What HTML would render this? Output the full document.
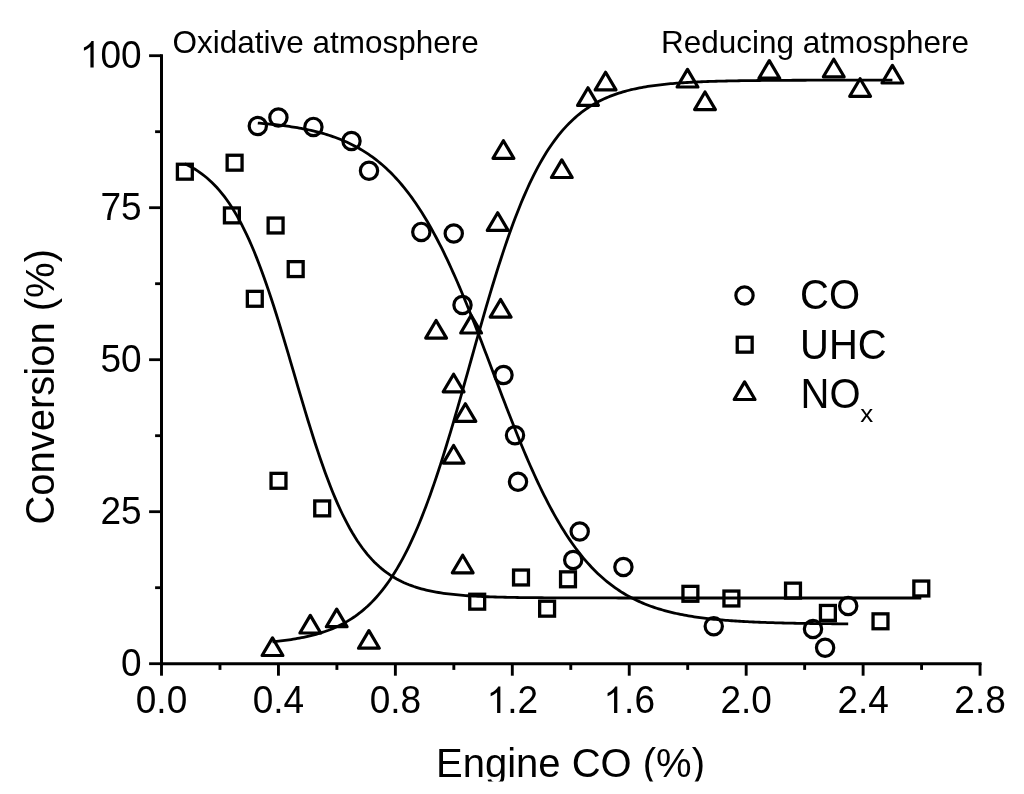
<!DOCTYPE html>
<html><head><meta charset="utf-8"><style>
html,body{margin:0;padding:0;background:#fff;}
body{width:1024px;height:794px;overflow:hidden;}
svg{display:block;will-change:transform;}
text{font-family:"Liberation Sans",sans-serif;fill:#000;}
.tl{font-size:37px;}
.lg{font-size:40px;}
.sub{font-size:24px;}
.an{font-size:31.5px;}
.ti{font-size:40px;}
</style></head><body>
<svg width="1024" height="794" viewBox="0 0 1024 794">
<rect width="1024" height="794" fill="#fff"/>
<path d="M161.5,54.2 V665.2" stroke="#000" stroke-width="3" fill="none"/>
<path d="M160.0,663.7 H981.55" stroke="#000" stroke-width="3" fill="none"/>
<path d="M149.1,663.70 H161.5" stroke="#000" stroke-width="2.8"/>
<path d="M155.1,587.70 H161.5" stroke="#000" stroke-width="2.8"/>
<path d="M149.1,511.70 H161.5" stroke="#000" stroke-width="2.8"/>
<path d="M155.1,435.70 H161.5" stroke="#000" stroke-width="2.8"/>
<path d="M149.1,359.70 H161.5" stroke="#000" stroke-width="2.8"/>
<path d="M155.1,283.70 H161.5" stroke="#000" stroke-width="2.8"/>
<path d="M149.1,207.70 H161.5" stroke="#000" stroke-width="2.8"/>
<path d="M155.1,131.70 H161.5" stroke="#000" stroke-width="2.8"/>
<path d="M149.1,55.70 H161.5" stroke="#000" stroke-width="2.8"/>
<path d="M161.50,663.7 V675.7" stroke="#000" stroke-width="2.9"/>
<path d="M219.97,663.7 V669.9000000000001" stroke="#000" stroke-width="2.9"/>
<path d="M278.44,663.7 V675.7" stroke="#000" stroke-width="2.9"/>
<path d="M336.90,663.7 V669.9000000000001" stroke="#000" stroke-width="2.9"/>
<path d="M395.37,663.7 V675.7" stroke="#000" stroke-width="2.9"/>
<path d="M453.84,663.7 V669.9000000000001" stroke="#000" stroke-width="2.9"/>
<path d="M512.31,663.7 V675.7" stroke="#000" stroke-width="2.9"/>
<path d="M570.78,663.7 V669.9000000000001" stroke="#000" stroke-width="2.9"/>
<path d="M629.24,663.7 V675.7" stroke="#000" stroke-width="2.9"/>
<path d="M687.71,663.7 V669.9000000000001" stroke="#000" stroke-width="2.9"/>
<path d="M746.18,663.7 V675.7" stroke="#000" stroke-width="2.9"/>
<path d="M804.65,663.7 V669.9000000000001" stroke="#000" stroke-width="2.9"/>
<path d="M863.11,663.7 V675.7" stroke="#000" stroke-width="2.9"/>
<path d="M921.58,663.7 V669.9000000000001" stroke="#000" stroke-width="2.9"/>
<path d="M980.05,663.7 V675.7" stroke="#000" stroke-width="2.9"/>
<g transform="translate(121.02,675.50) scale(1,1.05)"><text x="0" y="0" class="tl">0</text></g>
<g transform="translate(100.44,523.50) scale(1,1.05)"><text x="0" y="0" class="tl">25</text></g>
<g transform="translate(100.44,371.50) scale(1,1.05)"><text x="0" y="0" class="tl">50</text></g>
<g transform="translate(100.44,219.50) scale(1,1.05)"><text x="0" y="0" class="tl">75</text></g>
<g transform="translate(79.87,67.50) scale(1,1.05)"><text x="0" y="0" class="tl"><tspan fill="transparent">1</tspan>00</text><path d="M763 0H583V1147C540 1106 483 1065 413 1024C343 983 280 952 224 931V1105C325 1152 413 1210 488 1277C563 1344 616 1409 647 1472H763Z" transform="translate(0.000,0) scale(0.018066,-0.017206)"/></g>
<g transform="translate(135.78,713.00) scale(1,1.05)"><text x="0" y="0" class="tl">0.0</text></g>
<g transform="translate(252.72,713.00) scale(1,1.05)"><text x="0" y="0" class="tl">0.4</text></g>
<g transform="translate(369.65,713.00) scale(1,1.05)"><text x="0" y="0" class="tl">0.8</text></g>
<g transform="translate(486.59,713.00) scale(1,1.05)"><text x="0" y="0" class="tl"><tspan fill="transparent">1</tspan>.2</text><path d="M763 0H583V1147C540 1106 483 1065 413 1024C343 983 280 952 224 931V1105C325 1152 413 1210 488 1277C563 1344 616 1409 647 1472H763Z" transform="translate(0.000,0) scale(0.018066,-0.017206)"/></g>
<g transform="translate(603.53,713.00) scale(1,1.05)"><text x="0" y="0" class="tl"><tspan fill="transparent">1</tspan>.6</text><path d="M763 0H583V1147C540 1106 483 1065 413 1024C343 983 280 952 224 931V1105C325 1152 413 1210 488 1277C563 1344 616 1409 647 1472H763Z" transform="translate(0.000,0) scale(0.018066,-0.017206)"/></g>
<g transform="translate(720.46,713.00) scale(1,1.05)"><text x="0" y="0" class="tl">2.0</text></g>
<g transform="translate(837.40,713.00) scale(1,1.05)"><text x="0" y="0" class="tl">2.4</text></g>
<g transform="translate(954.33,713.00) scale(1,1.05)"><text x="0" y="0" class="tl">2.8</text></g>
<path d="M184.85,163.81 L187.31,164.99 L189.78,166.26 L192.24,167.62 L194.70,169.07 L197.17,170.63 L199.63,172.30 L202.09,174.08 L204.55,175.98 L207.02,178.01 L209.48,180.17 L211.94,182.48 L214.41,184.94 L216.87,187.56 L219.33,190.35 L221.80,193.31 L224.26,196.45 L226.72,199.78 L229.18,203.31 L231.65,207.05 L234.11,210.99 L236.57,215.15 L239.04,219.54 L241.50,224.16 L243.96,229.01 L246.43,234.10 L248.89,239.43 L251.35,245.00 L253.82,250.81 L256.28,256.87 L258.74,263.16 L261.20,269.69 L263.67,276.44 L266.13,283.41 L268.59,290.60 L271.06,297.98 L273.52,305.55 L275.98,313.29 L278.45,321.19 L280.91,329.22 L283.37,337.37 L285.83,345.62 L288.30,353.94 L290.76,362.32 L293.22,370.73 L295.69,379.14 L298.15,387.53 L300.61,395.89 L303.08,404.18 L305.54,412.39 L308.00,420.49 L310.47,428.46 L312.93,436.28 L315.39,443.95 L317.85,451.43 L320.32,458.73 L322.78,465.81 L325.24,472.69 L327.71,479.33 L330.17,485.75 L332.63,491.93 L335.10,497.88 L337.56,503.58 L340.02,509.04 L342.48,514.25 L344.95,519.23 L347.41,523.97 L349.87,528.48 L352.34,532.77 L354.80,536.83 L357.26,540.68 L359.73,544.31 L362.19,547.75 L364.65,550.99 L367.12,554.05 L369.58,556.93 L372.04,559.63 L374.50,562.18 L376.97,564.57 L379.43,566.81 L381.89,568.91 L384.36,570.88 L386.82,572.73 L389.28,574.45 L391.75,576.07 L394.21,577.57 L396.67,578.98 L399.13,580.30 L401.60,581.53 L404.06,582.68 L406.52,583.74 L408.99,584.74 L411.45,585.67 L413.91,586.54 L416.38,587.34 L418.84,588.09 L421.30,588.79 L423.77,589.44 L426.23,590.05 L428.69,590.61 L431.15,591.14 L433.62,591.62 L436.08,592.08 L438.54,592.50 L441.01,592.89 L443.47,593.26 L445.93,593.59 L448.40,593.91 L450.86,594.20 L453.32,594.47 L455.78,594.72 L458.25,594.96 L460.71,595.18 L463.17,595.38 L465.64,595.57 L468.10,595.74 L470.56,595.90 L473.03,596.05 L475.49,596.19 L477.95,596.32 L480.42,596.44 L482.88,596.56 L485.34,596.66 L487.80,596.76 L490.27,596.85 L492.73,596.93 L495.19,597.01 L497.66,597.08 L500.12,597.14 L502.58,597.20 L505.05,597.26 L507.51,597.32 L509.97,597.36 L512.43,597.41 L514.90,597.45 L517.36,597.49 L519.82,597.53 L522.29,597.56 L524.75,597.59 L527.21,597.62 L529.68,597.65 L532.14,597.68 L534.60,597.70 L537.07,597.72 L539.53,597.74 L541.99,597.76 L544.45,597.78 L546.92,597.79 L549.38,597.81 L551.84,597.82 L554.31,597.83 L556.77,597.85 L559.23,597.86 L561.70,597.87 L564.16,597.88 L566.62,597.89 L569.08,597.89 L571.55,597.90 L574.01,597.91 L576.47,597.92 L578.94,597.92 L581.40,597.93 L583.86,597.93 L586.33,597.94 L588.79,597.94 L591.25,597.95 L593.72,597.95 L596.18,597.95 L598.64,597.96 L601.10,597.96 L603.57,597.96 L606.03,597.97 L608.49,597.97 L610.96,597.97 L613.42,597.97 L615.88,597.97 L618.35,597.98 L620.81,597.98 L623.27,597.98 L625.73,597.98 L628.20,597.98 L630.66,597.98 L633.12,597.98 L635.59,597.99 L638.05,597.99 L640.51,597.99 L642.98,597.99 L645.44,597.99 L647.90,597.99 L650.37,597.99 L652.83,597.99 L655.29,597.99 L657.75,597.99 L660.22,597.99 L662.68,597.99 L665.14,597.99 L667.61,597.99 L670.07,598.00 L672.53,598.00 L675.00,598.00 L677.46,598.00 L679.92,598.00 L682.38,598.00 L684.85,598.00 L687.31,598.00 L689.77,598.00 L692.24,598.00 L694.70,598.00 L697.16,598.00 L699.63,598.00 L702.09,598.00 L704.55,598.00 L707.02,598.00 L709.48,598.00 L711.94,598.00 L714.40,598.00 L716.87,598.00 L719.33,598.00 L721.79,598.00 L724.26,598.00 L726.72,598.00 L729.18,598.00 L731.65,598.00 L734.11,598.00 L736.57,598.00 L739.03,598.00 L741.50,598.00 L743.96,598.00 L746.42,598.00 L748.89,598.00 L751.35,598.00 L753.81,598.00 L756.28,598.00 L758.74,598.00 L761.20,598.00 L763.67,598.00 L766.13,598.00 L768.59,598.00 L771.05,598.00 L773.52,598.00 L775.98,598.00 L778.44,598.00 L780.91,598.00 L783.37,598.00 L785.83,598.00 L788.30,598.00 L790.76,598.00 L793.22,598.00 L795.68,598.00 L798.15,598.00 L800.61,598.00 L803.07,598.00 L805.54,598.00 L808.00,598.00 L810.46,598.00 L812.93,598.00 L815.39,598.00 L817.85,598.00 L820.32,598.00 L822.78,598.00 L825.24,598.00 L827.70,598.00 L830.17,598.00 L832.63,598.00 L835.09,598.00 L837.56,598.00 L840.02,598.00 L842.48,598.00 L844.95,598.00 L847.41,598.00 L849.87,598.00 L852.33,598.00 L854.80,598.00 L857.26,598.00 L859.72,598.00 L862.19,598.00 L864.65,598.00 L867.11,598.00 L869.58,598.00 L872.04,598.00 L874.50,598.00 L876.97,598.00 L879.43,598.00 L881.89,598.00 L884.35,598.00 L886.82,598.00 L889.28,598.00 L891.74,598.00 L894.21,598.00 L896.67,598.00 L899.13,598.00 L901.60,598.00 L904.06,598.00 L906.52,598.00 L908.98,598.00 L911.45,598.00 L913.91,598.00 L916.37,598.00 L918.84,598.00 L921.30,598.00" stroke="#000" stroke-width="2.8" fill="none"/>
<path d="M257.80,123.07 L259.77,123.22 L261.75,123.39 L263.72,123.55 L265.70,123.73 L267.67,123.91 L269.65,124.09 L271.62,124.29 L273.60,124.49 L275.57,124.71 L277.55,124.93 L279.52,125.16 L281.49,125.40 L283.47,125.65 L285.44,125.91 L287.42,126.18 L289.39,126.46 L291.37,126.76 L293.34,127.06 L295.32,127.38 L297.29,127.71 L299.27,128.05 L301.24,128.41 L303.22,128.78 L305.19,129.17 L307.16,129.58 L309.14,130.00 L311.11,130.43 L313.09,130.89 L315.06,131.36 L317.04,131.85 L319.01,132.36 L320.99,132.90 L322.96,133.45 L324.94,134.02 L326.91,134.62 L328.88,135.24 L330.86,135.89 L332.83,136.56 L334.81,137.26 L336.78,137.98 L338.76,138.74 L340.73,139.52 L342.71,140.33 L344.68,141.18 L346.66,142.06 L348.63,142.97 L350.61,143.91 L352.58,144.89 L354.55,145.91 L356.53,146.97 L358.50,148.06 L360.48,149.20 L362.45,150.38 L364.43,151.60 L366.40,152.87 L368.38,154.18 L370.35,155.54 L372.33,156.95 L374.30,158.41 L376.27,159.93 L378.25,161.49 L380.22,163.11 L382.20,164.79 L384.17,166.52 L386.15,168.32 L388.12,170.17 L390.10,172.09 L392.07,174.07 L394.05,176.11 L396.02,178.23 L398.00,180.41 L399.97,182.66 L401.94,184.98 L403.92,187.37 L405.89,189.83 L407.87,192.37 L409.84,194.99 L411.82,197.68 L413.79,200.45 L415.77,203.30 L417.74,206.23 L419.72,209.23 L421.69,212.32 L423.66,215.49 L425.64,218.75 L427.61,222.08 L429.59,225.50 L431.56,229.00 L433.54,232.59 L435.51,236.25 L437.49,240.00 L439.46,243.83 L441.44,247.74 L443.41,251.73 L445.39,255.81 L447.36,259.95 L449.33,264.18 L451.31,268.48 L453.28,272.85 L455.26,277.30 L457.23,281.81 L459.21,286.39 L461.18,291.04 L463.16,295.74 L465.13,300.51 L467.11,305.33 L469.08,310.21 L471.05,315.13 L473.03,320.10 L475.00,325.11 L476.98,330.16 L478.95,335.25 L480.93,340.36 L482.90,345.50 L484.88,350.67 L486.85,355.85 L488.83,361.04 L490.80,366.25 L492.78,371.46 L494.75,376.67 L496.72,381.87 L498.70,387.07 L500.67,392.25 L502.65,397.42 L504.62,402.56 L506.60,407.68 L508.57,412.77 L510.55,417.82 L512.52,422.84 L514.50,427.81 L516.47,432.74 L518.44,437.62 L520.42,442.45 L522.39,447.23 L524.37,451.94 L526.34,456.59 L528.32,461.18 L530.29,465.70 L532.27,470.16 L534.24,474.54 L536.22,478.85 L538.19,483.08 L540.17,487.24 L542.14,491.32 L544.11,495.32 L546.09,499.24 L548.06,503.08 L550.04,506.84 L552.01,510.52 L553.99,514.11 L555.96,517.62 L557.94,521.05 L559.91,524.40 L561.89,527.66 L563.86,530.84 L565.83,533.94 L567.81,536.96 L569.78,539.90 L571.76,542.76 L573.73,545.54 L575.71,548.24 L577.68,550.86 L579.66,553.41 L581.63,555.89 L583.61,558.29 L585.58,560.61 L587.56,562.87 L589.53,565.06 L591.50,567.18 L593.48,569.23 L595.45,571.22 L597.43,573.15 L599.40,575.01 L601.38,576.81 L603.35,578.55 L605.33,580.24 L607.30,581.86 L609.28,583.44 L611.25,584.96 L613.22,586.42 L615.20,587.84 L617.17,589.21 L619.15,590.52 L621.12,591.80 L623.10,593.03 L625.07,594.21 L627.05,595.35 L629.02,596.45 L631.00,597.51 L632.97,598.54 L634.95,599.52 L636.92,600.47 L638.89,601.39 L640.87,602.27 L642.84,603.12 L644.82,603.93 L646.79,604.72 L648.77,605.48 L650.74,606.20 L652.72,606.91 L654.69,607.58 L656.67,608.23 L658.64,608.85 L660.61,609.45 L662.59,610.03 L664.56,610.59 L666.54,611.12 L668.51,611.64 L670.49,612.13 L672.46,612.61 L674.44,613.06 L676.41,613.50 L678.39,613.92 L680.36,614.33 L682.34,614.72 L684.31,615.09 L686.28,615.45 L688.26,615.80 L690.23,616.13 L692.21,616.45 L694.18,616.76 L696.16,617.05 L698.13,617.34 L700.11,617.61 L702.08,617.87 L704.06,618.12 L706.03,618.36 L708.00,618.59 L709.98,618.82 L711.95,619.03 L713.93,619.24 L715.90,619.43 L717.88,619.62 L719.85,619.80 L721.83,619.98 L723.80,620.15 L725.78,620.31 L727.75,620.46 L729.73,620.61 L731.70,620.75 L733.67,620.89 L735.65,621.02 L737.62,621.15 L739.60,621.27 L741.57,621.38 L743.55,621.49 L745.52,621.60 L747.50,621.70 L749.47,621.80 L751.45,621.90 L753.42,621.99 L755.39,622.08 L757.37,622.16 L759.34,622.24 L761.32,622.32 L763.29,622.39 L765.27,622.46 L767.24,622.53 L769.22,622.60 L771.19,622.66 L773.17,622.72 L775.14,622.78 L777.12,622.83 L779.09,622.89 L781.06,622.94 L783.04,622.99 L785.01,623.03 L786.99,623.08 L788.96,623.12 L790.94,623.16 L792.91,623.20 L794.89,623.24 L796.86,623.28 L798.84,623.31 L800.81,623.35 L802.78,623.38 L804.76,623.41 L806.73,623.44 L808.71,623.47 L810.68,623.50 L812.66,623.52 L814.63,623.55 L816.61,623.57 L818.58,623.60 L820.56,623.62 L822.53,623.64 L824.51,623.66 L826.48,623.68 L828.45,623.70 L830.43,623.72 L832.40,623.74 L834.38,623.75 L836.35,623.77 L838.33,623.79 L840.30,623.80 L842.28,623.81 L844.25,623.83 L846.23,623.84 L848.20,623.85" stroke="#000" stroke-width="2.8" fill="none"/>
<path d="M272.50,641.79 L274.57,641.59 L276.65,641.37 L278.72,641.15 L280.79,640.91 L282.87,640.66 L284.94,640.40 L287.01,640.12 L289.09,639.82 L291.16,639.52 L293.23,639.19 L295.31,638.85 L297.38,638.49 L299.45,638.12 L301.53,637.72 L303.60,637.30 L305.67,636.86 L307.75,636.40 L309.82,635.91 L311.89,635.40 L313.96,634.86 L316.04,634.30 L318.11,633.70 L320.18,633.07 L322.26,632.42 L324.33,631.73 L326.40,631.00 L328.48,630.24 L330.55,629.43 L332.62,628.59 L334.70,627.70 L336.77,626.78 L338.84,625.80 L340.92,624.77 L342.99,623.70 L345.06,622.57 L347.14,621.39 L349.21,620.14 L351.28,618.84 L353.36,617.47 L355.43,616.04 L357.50,614.54 L359.58,612.97 L361.65,611.32 L363.72,609.60 L365.80,607.80 L367.87,605.91 L369.94,603.93 L372.02,601.87 L374.09,599.71 L376.16,597.46 L378.24,595.10 L380.31,592.65 L382.38,590.08 L384.46,587.41 L386.53,584.62 L388.60,581.72 L390.67,578.69 L392.75,575.54 L394.82,572.27 L396.89,568.87 L398.97,565.33 L401.04,561.66 L403.11,557.86 L405.19,553.91 L407.26,549.82 L409.33,545.59 L411.41,541.21 L413.48,536.69 L415.55,532.01 L417.63,527.19 L419.70,522.22 L421.77,517.11 L423.85,511.84 L425.92,506.43 L427.99,500.87 L430.07,495.17 L432.14,489.32 L434.21,483.34 L436.29,477.22 L438.36,470.98 L440.43,464.60 L442.51,458.11 L444.58,451.50 L446.65,444.78 L448.73,437.96 L450.80,431.04 L452.87,424.04 L454.95,416.95 L457.02,409.80 L459.09,402.58 L461.17,395.31 L463.24,388.00 L465.31,380.65 L467.38,373.27 L469.46,365.89 L471.53,358.50 L473.60,351.11 L475.68,343.74 L477.75,336.40 L479.82,329.09 L481.90,321.83 L483.97,314.62 L486.04,307.48 L488.12,300.41 L490.19,293.42 L492.26,286.52 L494.34,279.72 L496.41,273.02 L498.48,266.43 L500.56,259.96 L502.63,253.60 L504.70,247.38 L506.78,241.29 L508.85,235.33 L510.92,229.51 L513.00,223.84 L515.07,218.31 L517.14,212.92 L519.22,207.68 L521.29,202.59 L523.36,197.65 L525.44,192.85 L527.51,188.21 L529.58,183.71 L531.66,179.36 L533.73,175.15 L535.80,171.09 L537.88,167.17 L539.95,163.39 L542.02,159.74 L544.09,156.23 L546.17,152.85 L548.24,149.60 L550.31,146.48 L552.39,143.48 L554.46,140.59 L556.53,137.83 L558.61,135.17 L560.68,132.63 L562.75,130.19 L564.83,127.85 L566.90,125.62 L568.97,123.48 L571.05,121.43 L573.12,119.47 L575.19,117.60 L577.27,115.81 L579.34,114.10 L581.41,112.47 L583.49,110.91 L585.56,109.42 L587.63,108.00 L589.71,106.65 L591.78,105.36 L593.85,104.12 L595.93,102.95 L598.00,101.83 L600.07,100.77 L602.15,99.75 L604.22,98.78 L606.29,97.86 L608.37,96.98 L610.44,96.15 L612.51,95.35 L614.59,94.60 L616.66,93.88 L618.73,93.19 L620.81,92.54 L622.88,91.92 L624.95,91.33 L627.02,90.77 L629.10,90.24 L631.17,89.73 L633.24,89.25 L635.32,88.79 L637.39,88.35 L639.46,87.94 L641.54,87.54 L643.61,87.17 L645.68,86.81 L647.76,86.48 L649.83,86.16 L651.90,85.85 L653.98,85.56 L656.05,85.29 L658.12,85.02 L660.20,84.78 L662.27,84.54 L664.34,84.32 L666.42,84.10 L668.49,83.90 L670.56,83.71 L672.64,83.53 L674.71,83.35 L676.78,83.19 L678.86,83.03 L680.93,82.88 L683.00,82.74 L685.08,82.61 L687.15,82.48 L689.22,82.36 L691.30,82.25 L693.37,82.14 L695.44,82.04 L697.52,81.94 L699.59,81.85 L701.66,81.76 L703.73,81.67 L705.81,81.59 L707.88,81.52 L709.95,81.45 L712.03,81.38 L714.10,81.31 L716.17,81.25 L718.25,81.19 L720.32,81.14 L722.39,81.09 L724.47,81.04 L726.54,80.99 L728.61,80.94 L730.69,80.90 L732.76,80.86 L734.83,80.82 L736.91,80.79 L738.98,80.75 L741.05,80.72 L743.13,80.69 L745.20,80.66 L747.27,80.63 L749.35,80.60 L751.42,80.58 L753.49,80.55 L755.57,80.53 L757.64,80.51 L759.71,80.49 L761.79,80.47 L763.86,80.45 L765.93,80.43 L768.01,80.42 L770.08,80.40 L772.15,80.39 L774.23,80.37 L776.30,80.36 L778.37,80.35 L780.44,80.33 L782.52,80.32 L784.59,80.31 L786.66,80.30 L788.74,80.29 L790.81,80.28 L792.88,80.27 L794.96,80.26 L797.03,80.26 L799.10,80.25 L801.18,80.24 L803.25,80.23 L805.32,80.23 L807.40,80.22 L809.47,80.22 L811.54,80.21 L813.62,80.21 L815.69,80.20 L817.76,80.20 L819.84,80.19 L821.91,80.19 L823.98,80.18 L826.06,80.18 L828.13,80.18 L830.20,80.17 L832.28,80.17 L834.35,80.17 L836.42,80.16 L838.50,80.16 L840.57,80.16 L842.64,80.15 L844.72,80.15 L846.79,80.15 L848.86,80.15 L850.94,80.15 L853.01,80.14 L855.08,80.14 L857.15,80.14 L859.23,80.14 L861.30,80.14 L863.37,80.14 L865.45,80.13 L867.52,80.13 L869.59,80.13 L871.67,80.13 L873.74,80.13 L875.81,80.13 L877.89,80.13 L879.96,80.13 L882.03,80.12 L884.11,80.12 L886.18,80.12 L888.25,80.12 L890.33,80.12 L892.40,80.12" stroke="#000" stroke-width="2.8" fill="none"/>
<circle cx="257.80" cy="126.00" r="8.65" stroke="#000" stroke-width="3.2" fill="none"/>
<circle cx="278.40" cy="117.60" r="8.65" stroke="#000" stroke-width="3.2" fill="none"/>
<circle cx="313.40" cy="126.90" r="8.65" stroke="#000" stroke-width="3.2" fill="none"/>
<circle cx="351.50" cy="141.00" r="8.65" stroke="#000" stroke-width="3.2" fill="none"/>
<circle cx="369.00" cy="170.70" r="8.65" stroke="#000" stroke-width="3.2" fill="none"/>
<circle cx="421.30" cy="231.90" r="8.65" stroke="#000" stroke-width="3.2" fill="none"/>
<circle cx="453.75" cy="233.50" r="8.65" stroke="#000" stroke-width="3.2" fill="none"/>
<circle cx="462.50" cy="305.00" r="8.65" stroke="#000" stroke-width="3.2" fill="none"/>
<circle cx="503.50" cy="375.00" r="8.65" stroke="#000" stroke-width="3.2" fill="none"/>
<circle cx="515.00" cy="435.20" r="8.65" stroke="#000" stroke-width="3.2" fill="none"/>
<circle cx="518.00" cy="481.80" r="8.65" stroke="#000" stroke-width="3.2" fill="none"/>
<circle cx="579.70" cy="531.50" r="8.65" stroke="#000" stroke-width="3.2" fill="none"/>
<circle cx="573.20" cy="560.00" r="8.65" stroke="#000" stroke-width="3.2" fill="none"/>
<circle cx="623.40" cy="567.00" r="8.65" stroke="#000" stroke-width="3.2" fill="none"/>
<circle cx="713.75" cy="626.25" r="8.65" stroke="#000" stroke-width="3.2" fill="none"/>
<circle cx="813.00" cy="629.00" r="8.65" stroke="#000" stroke-width="3.2" fill="none"/>
<circle cx="825.10" cy="647.70" r="8.65" stroke="#000" stroke-width="3.2" fill="none"/>
<circle cx="848.20" cy="606.00" r="8.65" stroke="#000" stroke-width="3.2" fill="none"/>
<rect x="177.40" y="164.25" width="14.9" height="14.9" stroke="#000" stroke-width="3.3" fill="none"/>
<rect x="227.15" y="155.25" width="14.9" height="14.9" stroke="#000" stroke-width="3.3" fill="none"/>
<rect x="224.45" y="207.95" width="14.9" height="14.9" stroke="#000" stroke-width="3.3" fill="none"/>
<rect x="268.15" y="218.05" width="14.9" height="14.9" stroke="#000" stroke-width="3.3" fill="none"/>
<rect x="288.25" y="261.65" width="14.9" height="14.9" stroke="#000" stroke-width="3.3" fill="none"/>
<rect x="247.35" y="291.35" width="14.9" height="14.9" stroke="#000" stroke-width="3.3" fill="none"/>
<rect x="271.05" y="473.35" width="14.9" height="14.9" stroke="#000" stroke-width="3.3" fill="none"/>
<rect x="314.75" y="500.95" width="14.9" height="14.9" stroke="#000" stroke-width="3.3" fill="none"/>
<rect x="469.75" y="594.25" width="14.9" height="14.9" stroke="#000" stroke-width="3.3" fill="none"/>
<rect x="513.55" y="570.05" width="14.9" height="14.9" stroke="#000" stroke-width="3.3" fill="none"/>
<rect x="539.65" y="601.25" width="14.9" height="14.9" stroke="#000" stroke-width="3.3" fill="none"/>
<rect x="560.55" y="571.85" width="14.9" height="14.9" stroke="#000" stroke-width="3.3" fill="none"/>
<rect x="682.95" y="586.35" width="14.9" height="14.9" stroke="#000" stroke-width="3.3" fill="none"/>
<rect x="723.95" y="591.05" width="14.9" height="14.9" stroke="#000" stroke-width="3.3" fill="none"/>
<rect x="785.55" y="583.15" width="14.9" height="14.9" stroke="#000" stroke-width="3.3" fill="none"/>
<rect x="820.45" y="605.45" width="14.9" height="14.9" stroke="#000" stroke-width="3.3" fill="none"/>
<rect x="873.05" y="613.85" width="14.9" height="14.9" stroke="#000" stroke-width="3.3" fill="none"/>
<rect x="913.85" y="581.05" width="14.9" height="14.9" stroke="#000" stroke-width="3.3" fill="none"/>
<path d="M272.50,637.90 L282.90,655.50 L262.10,655.50 Z" stroke="#000" stroke-width="3.2" stroke-linejoin="round" fill="none"/>
<path d="M310.30,615.40 L320.70,633.00 L299.90,633.00 Z" stroke="#000" stroke-width="3.2" stroke-linejoin="round" fill="none"/>
<path d="M336.70,609.10 L347.10,626.70 L326.30,626.70 Z" stroke="#000" stroke-width="3.2" stroke-linejoin="round" fill="none"/>
<path d="M368.90,630.60 L379.30,648.20 L358.50,648.20 Z" stroke="#000" stroke-width="3.2" stroke-linejoin="round" fill="none"/>
<path d="M497.70,212.80 L508.10,230.40 L487.30,230.40 Z" stroke="#000" stroke-width="3.2" stroke-linejoin="round" fill="none"/>
<path d="M436.10,320.50 L446.50,338.10 L425.70,338.10 Z" stroke="#000" stroke-width="3.2" stroke-linejoin="round" fill="none"/>
<path d="M471.10,315.40 L481.50,333.00 L460.70,333.00 Z" stroke="#000" stroke-width="3.2" stroke-linejoin="round" fill="none"/>
<path d="M500.60,299.50 L511.00,317.10 L490.20,317.10 Z" stroke="#000" stroke-width="3.2" stroke-linejoin="round" fill="none"/>
<path d="M453.60,374.20 L464.00,391.80 L443.20,391.80 Z" stroke="#000" stroke-width="3.2" stroke-linejoin="round" fill="none"/>
<path d="M465.40,403.80 L475.80,421.40 L455.00,421.40 Z" stroke="#000" stroke-width="3.2" stroke-linejoin="round" fill="none"/>
<path d="M453.60,445.50 L464.00,463.10 L443.20,463.10 Z" stroke="#000" stroke-width="3.2" stroke-linejoin="round" fill="none"/>
<path d="M462.70,555.20 L473.10,572.80 L452.30,572.80 Z" stroke="#000" stroke-width="3.2" stroke-linejoin="round" fill="none"/>
<path d="M503.40,140.70 L513.80,158.30 L493.00,158.30 Z" stroke="#000" stroke-width="3.2" stroke-linejoin="round" fill="none"/>
<path d="M588.00,87.80 L598.40,105.40 L577.60,105.40 Z" stroke="#000" stroke-width="3.2" stroke-linejoin="round" fill="none"/>
<path d="M605.60,72.30 L616.00,89.90 L595.20,89.90 Z" stroke="#000" stroke-width="3.2" stroke-linejoin="round" fill="none"/>
<path d="M561.80,159.90 L572.20,177.50 L551.40,177.50 Z" stroke="#000" stroke-width="3.2" stroke-linejoin="round" fill="none"/>
<path d="M687.50,69.40 L697.90,87.00 L677.10,87.00 Z" stroke="#000" stroke-width="3.2" stroke-linejoin="round" fill="none"/>
<path d="M705.00,92.00 L715.40,109.60 L694.60,109.60 Z" stroke="#000" stroke-width="3.2" stroke-linejoin="round" fill="none"/>
<path d="M769.30,60.60 L779.70,78.20 L758.90,78.20 Z" stroke="#000" stroke-width="3.2" stroke-linejoin="round" fill="none"/>
<path d="M833.75,59.20 L844.15,76.80 L823.35,76.80 Z" stroke="#000" stroke-width="3.2" stroke-linejoin="round" fill="none"/>
<path d="M860.10,78.70 L870.50,96.30 L849.70,96.30 Z" stroke="#000" stroke-width="3.2" stroke-linejoin="round" fill="none"/>
<path d="M892.40,65.40 L902.80,83.00 L882.00,83.00 Z" stroke="#000" stroke-width="3.2" stroke-linejoin="round" fill="none"/>
<circle cx="744.50" cy="295.50" r="8.65" stroke="#000" stroke-width="3.2" fill="none"/>
<rect x="737.25" y="337.25" width="14.9" height="14.9" stroke="#000" stroke-width="3.3" fill="none"/>
<path d="M744.60,381.90 L755.00,399.50 L734.20,399.50 Z" stroke="#000" stroke-width="3.2" stroke-linejoin="round" fill="none"/>
<g transform="translate(800,309.2) scale(1.0,1.04)"><text x="0" y="0" class="lg">CO</text></g>
<g transform="translate(800,358.7) scale(1.0,1.04)"><text x="0" y="0" class="lg">UHC</text></g>
<g transform="translate(800.5,407.7) scale(1.0,1.04)"><text x="0" y="0" class="lg">NO</text></g>
<g transform="translate(860.3,422.0) scale(1.08,0.96)"><text x="0" y="0" class="sub">x</text></g>
<g transform="translate(172.5,52.6) scale(1.0,1.01)"><text x="0" y="0" class="an">Oxidative atmosphere</text></g>
<g transform="translate(661.0,52.6) scale(1.0,1.01)"><text x="0" y="0" class="an">Reducing atmosphere</text></g>
<g transform="translate(570.5,776.9) scale(1.0,1.01)"><text x="0" y="0" class="ti" text-anchor="middle">Engine CO (%)</text></g>
<g transform="translate(54.1,386.8) rotate(-90) scale(1.0,1.01)"><text x="0" y="0" class="ti" text-anchor="middle">Conversion (%)</text></g>
<rect x="0" y="781.5" width="1024" height="13" fill="#fff"/>
</svg>
</body></html>
